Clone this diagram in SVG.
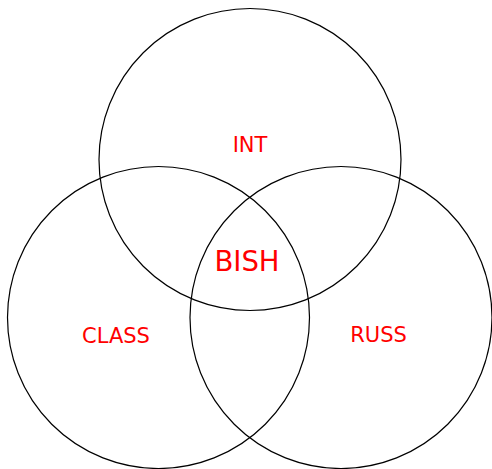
<svg xmlns="http://www.w3.org/2000/svg" width="492" height="469" viewBox="0 0 492 469">
<style>
.c{fill:none;stroke:#000;stroke-width:1.2}
.t{fill:#ff0000;font-family:"DejaVu Sans",sans-serif;font-size:21px;text-anchor:middle}
</style>
<rect width="492" height="469" fill="#fff"/>
<g id="connectors"/>
<g id="int"><circle class="c" cx="250" cy="159.5" r="151"/><text class="t" x="250" y="152">INT</text></g>
<g id="class"><circle class="c" cx="158.5" cy="317.5" r="151"/><text class="t" x="116" y="343">CLASS</text></g>
<g id="russ"><circle class="c" cx="341" cy="317.5" r="151"/><text class="t" x="378.5" y="342">RUSS</text></g>
<g id="bish"><text class="t" x="247" y="271" style="font-size:27.5px">BISH</text></g>
</svg>
